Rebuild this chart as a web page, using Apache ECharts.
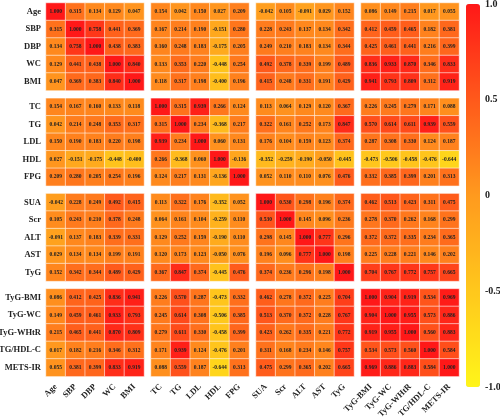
<!DOCTYPE html>
<html>
<head>
<meta charset="utf-8">
<script src="https://cdn.jsdelivr.net/npm/echarts@6/dist/echarts.min.js"></script>
<style>html,body{margin:0;padding:0;background:#fff}#c{width:500px;height:417px}</style>
</head>
<body>
<div id="c"></div>
<script>
const names = ['Age','SBP','DBP','WC','BMI','TC','TG','LDL','HDL','FPG','SUA','Scr','ALT','AST','TyG','TyG-BMI','TyG-WC','TyG-WHtR','TG/HDL-C','METS-IR'];
const rAge     = [1, .315, .134, .129, .047, .154, .042, .150, .027, .209, -.042, .105, -.091, .029, .152, .086, .149, .215, .017, .055];
const rSBP     = [.315, 1, .758, .441, .369, .167, .214, .190, -.151, .280, .228, .243, .137, .134, .342, .412, .459, .465, .182, .381];
const rDBP     = [.134, .758, 1, .438, .383, .160, .248, .183, -.175, .205, .249, .210, .183, .134, .344, .425, .461, .441, .216, .399];
const rWC      = [.129, .441, .438, 1, .840, .133, .353, .220, -.448, .254, .492, .378, .339, .199, .489, .836, .933, .870, .346, .833];
const rBMI     = [.047, .369, .383, .840, 1, .118, .317, .198, -.400, .196, .415, .248, .331, .191, .429, .941, .793, .809, .312, .919];
const rTC      = [.154, .167, .160, .133, .118, 1, .315, .939, .266, .124, .113, .064, .129, .120, .367, .226, .245, .279, .171, .088];
const rTG      = [.042, .214, .248, .353, .317, .315, 1, .234, -.368, .217, .322, .161, .252, .173, .847, .570, .614, .611, .939, .559];
const rLDL     = [.150, .190, .183, .220, .198, .939, .234, 1, .060, .131, .176, .104, .159, .123, .374, .287, .308, .330, .124, .187];
const rHDL     = [.027, -.151, -.175, -.448, -.400, .266, -.368, .060, 1, -.136, -.352, -.259, -.190, -.050, -.445, -.473, -.506, -.458, -.476, -.644];
const rFPG     = [.209, .280, .205, .254, .196, .124, .217, .131, -.136, 1, .052, .110, .110, .076, .476, .332, .385, .399, .201, .313];
const rSUA     = [-.042, .228, .249, .492, .415, .113, .322, .176, -.352, .052, 1, .530, .298, .196, .374, .462, .513, .423, .311, .475];
const rScr     = [.105, .243, .210, .378, .248, .064, .161, .104, -.259, .110, .530, 1, .145, .096, .236, .278, .370, .262, .168, .299];
const rALT     = [-.091, .137, .183, .339, .331, .129, .252, .159, -.190, .110, .298, .145, 1, .777, .296, .372, .372, .335, .234, .365];
const rAST     = [.029, .134, .134, .199, .191, .120, .173, .123, -.050, .076, .196, .096, .777, 1, .198, .225, .228, .221, .146, .202];
const rTyG     = [.152, .342, .344, .489, .429, .367, .847, .374, -.445, .476, .374, .236, .296, .198, 1, .704, .767, .772, .757, .665];
const rTyGBMI  = [.086, .412, .425, .836, .941, .226, .570, .287, -.473, .332, .462, .278, .372, .225, .704, 1, .904, .919, .534, .969];
const rTyGWC   = [.149, .459, .461, .933, .793, .245, .614, .308, -.506, .385, .513, .370, .372, .228, .767, .904, 1, .955, .573, .886];
const rTyGWHtR = [.215, .465, .441, .870, .809, .279, .611, .330, -.458, .399, .423, .262, .335, .221, .772, .919, .955, 1, .560, .883];
const rTGHDL   = [.017, .182, .216, .346, .312, .171, .939, .124, -.476, .201, .311, .168, .234, .146, .757, .534, .573, .560, 1, .584];
const rMETSIR  = [.055, .381, .399, .833, .919, .088, .559, .187, -.644, .313, .475, .299, .365, .202, .665, .969, .886, .883, .584, 1];
const colorbarTicks = [-1, -0.5, 0, 0.5, 1];

const matrix = [rAge,rSBP,rDBP,rWC,rBMI,rTC,rTG,rLDL,rHDL,rFPG,rSUA,rScr,rALT,rAST,rTyG,rTyGBMI,rTyGWC,rTyGWHtR,rTGHDL,rMETSIR];

const FONT = 'Liberation Serif';
const grids = [], xAxes = [], yAxes = [], series = [];
for (let i = 0; i < 4; i++) {
  for (let j = 0; j < 4; j++) {
    const k = grids.length;
    grids.push({left: 46 + j * 105, top: 3 + i * 95.3, width: 98, height: 87.5, containLabel: false, outerBoundsMode: 'none'});
    xAxes.push({
      type: 'category', gridIndex: k, data: names.slice(j * 5, j * 5 + 5),
      axisLine: {show: false}, axisTick: {show: false}, splitLine: {show: false},
      axisLabel: {show: i === 3, rotate: 45, margin: 9, fontFamily: FONT, fontWeight: 'bold', fontSize: 8.5, color: '#222', interval: 0}
    });
    yAxes.push({
      type: 'category', gridIndex: k, inverse: true, data: names.slice(i * 5, i * 5 + 5),
      axisLine: {show: false}, axisTick: {show: false}, splitLine: {show: false},
      axisLabel: {show: j === 0, margin: 5, fontFamily: FONT, fontWeight: 'bold', fontSize: 8.5, color: '#222', interval: 0}
    });
    const data = [];
    for (let a = 0; a < 5; a++) for (let b = 0; b < 5; b++) {
      data.push([b, a, matrix[i * 5 + a][j * 5 + b]]);
    }
    series.push({
      type: 'heatmap', xAxisIndex: k, yAxisIndex: k, data: data,
      itemStyle: {borderColor: 'rgba(255,255,255,0.55)', borderWidth: 1},
      label: {show: true, formatter: p => p.value[2].toFixed(3), fontFamily: FONT, fontWeight: 'bold', fontSize: 5.5, color: '#222'},
      emphasis: {disabled: true}
    });
  }
}
// colorbar label axis
grids.push({left: 466, top: 4, width: 14, height: 383, containLabel: false, outerBoundsMode: 'none'});
xAxes.push({type: 'value', gridIndex: 16, show: false});
yAxes.push({
  type: 'value', gridIndex: 16, position: 'right', min: colorbarTicks[0], max: colorbarTicks[4], interval: 0.5,
  axisLine: {show: false}, axisTick: {show: false}, splitLine: {show: false},
  axisLabel: {margin: 5, fontFamily: FONT, fontWeight: 'bold', fontSize: 10, color: '#222',
    formatter: v => v === 0 ? '0' : v.toFixed(1)}
});

const chart = echarts.init(document.getElementById('c'), null, {renderer: 'canvas'});
chart.setOption({
  animation: false,
  backgroundColor: '#fff',
  grid: grids, xAxis: xAxes, yAxis: yAxes, series: series,
  visualMap: {
    type: 'continuous', min: -1, max: 1, dimension: 2, calculable: false,
    seriesIndex: series.map((s, i) => i),
    left: 466, top: 4, itemWidth: 14, itemHeight: 383, padding: 0, text: null, showLabel: false,
    inRange: {color: ['#fff51a', '#ff9a1e', '#ff1818']}
  }
});
</script>
</body>
</html>
